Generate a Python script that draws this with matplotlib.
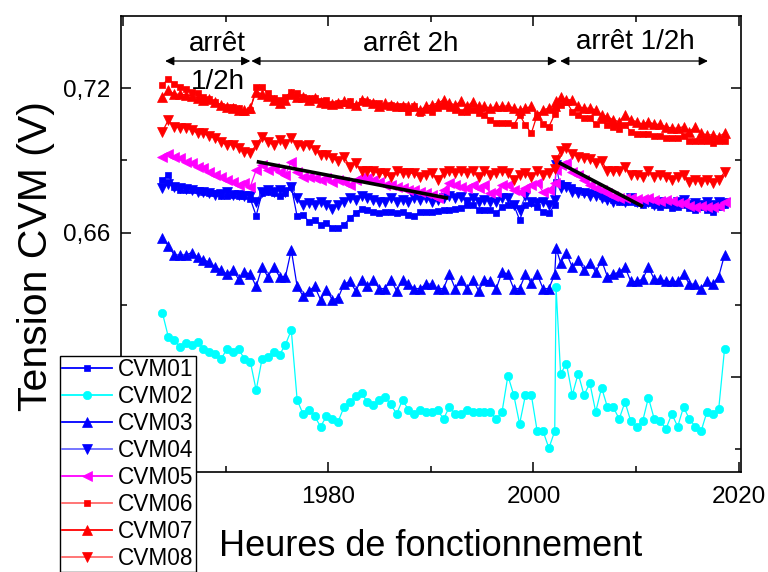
import numpy as np
import matplotlib
matplotlib.use("Agg")
import matplotlib.pyplot as plt
from matplotlib.ticker import FixedLocator, FuncFormatter

plt.rcParams['font.family'] = ['Liberation Sans', 'DejaVu Sans']

# ---------------- data ----------------
t_start = 1963.84      # first sample
t_end = 2018.62        # last sample
n_regular = 97
jump_index = 68        # an extra sample right after the 68th regular one
jump_offset = 0.13

cvm01 = [0.6819, 0.6840, 0.6791, 0.6777, 0.6777, 0.6777, 0.6777, 0.6770, 0.6765, 0.6765,
         0.6750, 0.6750, 0.6757, 0.6750, 0.6750, 0.6740, 0.6670, 0.6764, 0.6770, 0.6764,
         0.6750, 0.6764, 0.6791, 0.6667, 0.6674, 0.6646, 0.6653, 0.6632, 0.6640, 0.6621,
         0.6621, 0.6632, 0.6660, 0.6681, 0.6700, 0.6694, 0.6687, 0.6681, 0.6687, 0.6687,
         0.6681, 0.6687, 0.6674, 0.6667, 0.6687, 0.6687, 0.6687, 0.6690, 0.6694, 0.6694,
         0.6697, 0.6701, 0.6715, 0.6715, 0.6694, 0.6694, 0.6694, 0.6680, 0.6708, 0.6715,
         0.6715, 0.6653, 0.6715, 0.6722, 0.6708, 0.6687, 0.6680, 0.6715, 0.6810, 0.6805,
         0.6798, 0.6791, 0.6777, 0.6770, 0.6770, 0.6764, 0.6750, 0.6743, 0.6736, 0.6729,
         0.6729, 0.6729, 0.6722, 0.6715, 0.6722, 0.6715, 0.6708, 0.6715, 0.6701, 0.6708,
         0.6715, 0.6701, 0.6694, 0.6708, 0.6694, 0.6687, 0.6708, 0.6715]

cvm02 = [0.6265, 0.6166, 0.6154, 0.6124, 0.6143, 0.6134, 0.6146, 0.6117, 0.6104, 0.6095,
         0.6074, 0.6116, 0.6102, 0.6117, 0.6074, 0.6064, 0.5945, 0.6074, 0.6084, 0.6104,
         0.6093, 0.6134, 0.6195, 0.5905, 0.5846, 0.5863, 0.5836, 0.5794, 0.5836, 0.5825,
         0.5814, 0.5875, 0.5897, 0.5919, 0.5935, 0.5894, 0.5884, 0.5905, 0.5916, 0.5886,
         0.5846, 0.5905, 0.5863, 0.5846, 0.5863, 0.5855, 0.5855, 0.5863, 0.5825, 0.5876,
         0.5846, 0.5846, 0.5863, 0.5855, 0.5855, 0.5855, 0.5855, 0.5825, 0.5855, 0.6005,
         0.5925, 0.5805, 0.5925, 0.5925, 0.5775, 0.5775, 0.5704, 0.5775, 0.6373, 0.6014,
         0.6055, 0.5925, 0.6014, 0.5925, 0.5974, 0.5855, 0.5955, 0.5875, 0.5875, 0.5825,
         0.5896, 0.5815, 0.5794, 0.5815, 0.5914, 0.5825, 0.5815, 0.5785, 0.5846, 0.5794,
         0.5875, 0.5825, 0.5794, 0.5775, 0.5855, 0.5846, 0.5865, 0.6116]

cvm03 = [0.6577, 0.6546, 0.6507, 0.6507, 0.6507, 0.6517, 0.6498, 0.6487, 0.6477, 0.6456,
         0.6445, 0.6427, 0.6445, 0.6406, 0.6436, 0.6427, 0.6376, 0.6456, 0.6417, 0.6456,
         0.6417, 0.6417, 0.6528, 0.6376, 0.6337, 0.6358, 0.6376, 0.6321, 0.6362, 0.6321,
         0.6328, 0.6386, 0.6397, 0.6358, 0.6404, 0.6376, 0.6404, 0.6367, 0.6367, 0.6404,
         0.6358, 0.6404, 0.6386, 0.6367, 0.6367, 0.6386, 0.6386, 0.6367, 0.6367, 0.6427,
         0.6367, 0.6404, 0.6367, 0.6404, 0.6358, 0.6404, 0.6397, 0.6367, 0.6436, 0.6427,
         0.6367, 0.6367, 0.6427, 0.6390, 0.6427, 0.6367, 0.6367, 0.6427, 0.6535, 0.6475,
         0.6514, 0.6456, 0.6484, 0.6445, 0.6475, 0.6436, 0.6484, 0.6417, 0.6427, 0.6436,
         0.6456, 0.6397, 0.6397, 0.6406, 0.6456, 0.6406, 0.6406, 0.6397, 0.6397, 0.6397,
         0.6427, 0.6386, 0.6386, 0.6367, 0.6397, 0.6386, 0.6417, 0.6507]

cvm04 = [0.6787, 0.6801, 0.6791, 0.6784, 0.6780, 0.6777, 0.6770, 0.6770, 0.6764, 0.6757,
         0.6760, 0.6770, 0.6757, 0.6757, 0.6750, 0.6750, 0.6729, 0.6770, 0.6777, 0.6770,
         0.6777, 0.6770, 0.6791, 0.6743, 0.6715, 0.6722, 0.6715, 0.6729, 0.6715, 0.6700,
         0.6715, 0.6729, 0.6743, 0.6736, 0.6750, 0.6743, 0.6736, 0.6729, 0.6729, 0.6743,
         0.6729, 0.6736, 0.6729, 0.6743, 0.6736, 0.6743, 0.6729, 0.6736, 0.6743, 0.6750,
         0.6743, 0.6746, 0.6729, 0.6743, 0.6729, 0.6736, 0.6729, 0.6729, 0.6743, 0.6743,
         0.6715, 0.6694, 0.6750, 0.6729, 0.6722, 0.6729, 0.6715, 0.6736, 0.6881, 0.6785,
         0.6791, 0.6770, 0.6764, 0.6764, 0.6750, 0.6750, 0.6743, 0.6736, 0.6729, 0.6736,
         0.6729, 0.6743, 0.6729, 0.6722, 0.6729, 0.6715, 0.6729, 0.6722, 0.6715, 0.6729,
         0.6736, 0.6715, 0.6722, 0.6715, 0.6729, 0.6715, 0.6729, 0.6722]

cvm05 = [0.6916, 0.6926, 0.6916, 0.6909, 0.6895, 0.6888, 0.6874, 0.6867, 0.6853, 0.6840,
         0.6833, 0.6819, 0.6812, 0.6798, 0.6805, 0.6791, 0.6860, 0.6881, 0.6860, 0.6867,
         0.6853, 0.6840, 0.6895, 0.6853, 0.6833, 0.6833, 0.6826, 0.6819, 0.6826, 0.6812,
         0.6819, 0.6812, 0.6798, 0.6819, 0.6833, 0.6826, 0.6819, 0.6812, 0.6798, 0.6798,
         0.6791, 0.6785, 0.6778, 0.6775, 0.6770, 0.6764, 0.6756, 0.6743, 0.6778, 0.6805,
         0.6798, 0.6791, 0.6785, 0.6798, 0.6785, 0.6798, 0.6764, 0.6770, 0.6798, 0.6798,
         0.6778, 0.6770, 0.6785, 0.6798, 0.6805, 0.6770, 0.6778, 0.6805, 0.6860, 0.6881,
         0.6888, 0.6853, 0.6840, 0.6819, 0.6798, 0.6785, 0.6778, 0.6764, 0.6750, 0.6743,
         0.6743, 0.6743, 0.6740, 0.6740, 0.6743, 0.6735, 0.6730, 0.6735, 0.6730, 0.6725,
         0.6725, 0.6712, 0.6705, 0.6712, 0.6705, 0.6705, 0.6712, 0.6729]

cvm06 = [0.7214, 0.7239, 0.7217, 0.7204, 0.7196, 0.7186, 0.7179, 0.7165, 0.7154, 0.7144,
         0.7126, 0.7121, 0.7121, 0.7117, 0.7100, 0.7110, 0.7203, 0.7203, 0.7180, 0.7160,
         0.7150, 0.7165, 0.7185, 0.7180, 0.7165, 0.7158, 0.7158, 0.7147, 0.7150, 0.7133,
         0.7138, 0.7140, 0.7147, 0.7124, 0.7147, 0.7144, 0.7140, 0.7138, 0.7124, 0.7130,
         0.7124, 0.7124, 0.7103, 0.7124, 0.7096, 0.7110, 0.7103, 0.7117, 0.7124, 0.7117,
         0.7110, 0.7103, 0.7103, 0.7110, 0.7096, 0.7089, 0.7068, 0.7055, 0.7055, 0.7055,
         0.7047, 0.7089, 0.7047, 0.7013, 0.7089, 0.7050, 0.7040, 0.7092, 0.7120, 0.7131,
         0.7144, 0.7103, 0.7089, 0.7075, 0.7075, 0.7050, 0.7068, 0.7047, 0.7040, 0.7030,
         0.7047, 0.7020, 0.7010, 0.7010, 0.7010, 0.7002, 0.7000, 0.6992, 0.6992, 0.6992,
         0.7002, 0.6981, 0.6981, 0.6981, 0.6981, 0.6971, 0.6981, 0.6981]

cvm07 = [0.7165, 0.7193, 0.7175, 0.7175, 0.7172, 0.7168, 0.7160, 0.7151, 0.7154, 0.7144,
         0.7130, 0.7121, 0.7117, 0.7110, 0.7110, 0.7117, 0.7186, 0.7175, 0.7168, 0.7151,
         0.7140, 0.7151, 0.7175, 0.7165, 0.7165, 0.7151, 0.7158, 0.7144, 0.7140, 0.7133,
         0.7140, 0.7147, 0.7140, 0.7130, 0.7150, 0.7147, 0.7140, 0.7124, 0.7138, 0.7131,
         0.7124, 0.7127, 0.7124, 0.7127, 0.7110, 0.7124, 0.7131, 0.7138, 0.7151, 0.7138,
         0.7131, 0.7145, 0.7124, 0.7144, 0.7124, 0.7124, 0.7117, 0.7124, 0.7124, 0.7127,
         0.7117, 0.7110, 0.7117, 0.7124, 0.7089, 0.7110, 0.7117, 0.7127, 0.7145, 0.7163,
         0.7151, 0.7151, 0.7124, 0.7117, 0.7117, 0.7110, 0.7089, 0.7082, 0.7068, 0.7061,
         0.7089, 0.7068, 0.7061, 0.7050, 0.7061, 0.7050, 0.7050, 0.7040, 0.7034, 0.7034,
         0.7040, 0.7020, 0.7040, 0.7013, 0.7006, 0.7006, 0.6999, 0.7013]

cvm08 = [0.7020, 0.7068, 0.7040, 0.7036, 0.7036, 0.7027, 0.7013, 0.7013, 0.7000, 0.6992,
         0.6976, 0.6965, 0.6965, 0.6951, 0.6935, 0.6930, 0.6965, 0.6999, 0.6975, 0.6965,
         0.6985, 0.6970, 0.6992, 0.6965, 0.6958, 0.6964, 0.6944, 0.6923, 0.6923, 0.6909,
         0.6898, 0.6916, 0.6874, 0.6888, 0.6856, 0.6856, 0.6856, 0.6847, 0.6847, 0.6829,
         0.6856, 0.6847, 0.6847, 0.6847, 0.6829, 0.6840, 0.6847, 0.6819, 0.6847, 0.6856,
         0.6847, 0.6856, 0.6847, 0.6856, 0.6829, 0.6856, 0.6840, 0.6847, 0.6856, 0.6847,
         0.6819, 0.6840, 0.6847, 0.6829, 0.6856, 0.6840, 0.6847, 0.6864, 0.6902, 0.6937,
         0.6951, 0.6926, 0.6916, 0.6909, 0.6905, 0.6888, 0.6898, 0.6856, 0.6856, 0.6856,
         0.6874, 0.6840, 0.6840, 0.6829, 0.6856, 0.6833, 0.6840, 0.6829, 0.6819, 0.6833,
         0.6840, 0.6812, 0.6819, 0.6812, 0.6819, 0.6805, 0.6819, 0.6851]

labels = ["CVM01", "CVM02", "CVM03", "CVM04", "CVM05", "CVM06", "CVM07", "CVM08"]

# trend segments (x0, y0, x1, y1)
trend1 = ([1973.03, 1991.68], [0.6895, 0.6743])
trend2 = ([2002.47, 2010.67], [0.6891, 0.6708])

# stop-period annotations
periods = [(1964.1, 1972.4), (1972.5, 2002.3), (2002.6, 2017.0)]
arrow_y = 0.7313

x_grid = np.linspace(t_start, t_end, n_regular)
x = np.insert(x_grid, jump_index, x_grid[jump_index - 1] + jump_offset)

# ---------------- figure ----------------
fig = plt.figure(figsize=(7.68, 5.72), dpi=100)
ax = fig.add_axes([0.1576, 0.1748, 0.8069, 0.7972])

styles = [
    dict(color='#0000ff', line='#0000ff', marker='s', ms=4.9),
    dict(color='#00ffff', line='#00ffff', marker='o', ms=6.0),
    dict(color='#0000ff', line='#0000ff', marker='^', ms=6.5),
    dict(color='#0000ff', line='#3333ff', marker='v', ms=6.5),
    dict(color='#ff00ff', line='#ff00ff', marker='<', ms=6.5),
    dict(color='#ff0000', line='#ff0000', marker='s', ms=4.9),
    dict(color='#ff0000', line='#ff0000', marker='^', ms=6.5),
    dict(color='#ff0000', line='#ff0000', marker='v', ms=6.5),
]
legend_line_colors = ['#0000ff', '#00ffff', '#0000ff', '#6a6aff',
                      '#ff00ff', '#ff6a6a', '#ff0000', '#ff6a6a']

series = [cvm01, cvm02, cvm03, cvm04, cvm05, cvm06, cvm07, cvm08]
for y, lab, st in zip(series, labels, styles):
    ax.plot(x, y, color=st['line'], lw=0.9, marker=st['marker'],
            ms=st['ms'], mfc=st['color'], mec=st['color'], mew=0.5, label=lab)

for tx, ty in (trend1, trend2):
    ax.plot(tx, ty, color='black', lw=2.6, solid_capstyle='butt', zorder=10)

for x0, x1 in periods:
    ax.annotate('', xy=(x1, arrow_y), xytext=(x0, arrow_y),
                arrowprops=dict(arrowstyle='<|-|>', color='black', lw=0.9,
                                mutation_scale=13, shrinkA=0, shrinkB=0))

ax.text(1969.2, 0.7385, 'arrêt', ha='center', va='center', fontsize=20)
ax.text(1969.2, 0.7227, '1/2h', ha='center', va='center', fontsize=20)
ax.text(1988.0, 0.7385, 'arrêt 2h', ha='center', va='center', fontsize=20)
ax.text(2009.9, 0.7390, 'arrêt 1/2h', ha='center', va='center', fontsize=20)

ax.set_xlim(1959.8, 2020.2)
ax.set_ylim(0.5605, 0.7500)

ax.xaxis.set_major_locator(FixedLocator([1960, 1980, 2000, 2020]))
ax.xaxis.set_minor_locator(FixedLocator([1970, 1990, 2010]))
ax.yaxis.set_major_locator(FixedLocator([0.60, 0.66, 0.72]))
ax.yaxis.set_minor_locator(FixedLocator([0.57, 0.63, 0.69]))
ax.xaxis.set_major_formatter(FuncFormatter(lambda v, p: '' if v < 1970 else f'{v:.0f}'))
ax.yaxis.set_major_formatter(FuncFormatter(lambda v, p: f'{v:.2f}'.replace('.', ',')))

ax.tick_params(which='both', direction='in', top=True, right=True, labelsize=17.5, width=1.1)
ax.tick_params(which='major', length=7)
ax.tick_params(which='minor', length=4)
ax.tick_params(axis='x', which='both', pad=10)
ax.tick_params(axis='y', which='both', pad=8)
for sp in ax.spines.values():
    sp.set_linewidth(1.2)

ax.set_xlabel('Heures de fonctionnement', fontsize=26, labelpad=15)
ax.set_ylabel('Tension CVM (V)', fontsize=29.5)
ax.yaxis.set_label_coords(-0.106, 0.474)

leg = fig.legend(loc='upper left', bbox_to_anchor=(0.078, 0.378), fontsize=16.3,
                 frameon=True, fancybox=False, edgecolor='black', framealpha=1,
                 handlelength=2.2, handletextpad=0.3, labelspacing=0.18,
                 borderpad=0.08, borderaxespad=0)
leg.get_frame().set_linewidth(1.0)
leg.set_zorder(20)
for ln, c in zip(leg.get_lines(), legend_line_colors):
    ln.set_color(c)
    ln.set_linewidth(1.3)

fig.savefig('out.png', dpi=100)
